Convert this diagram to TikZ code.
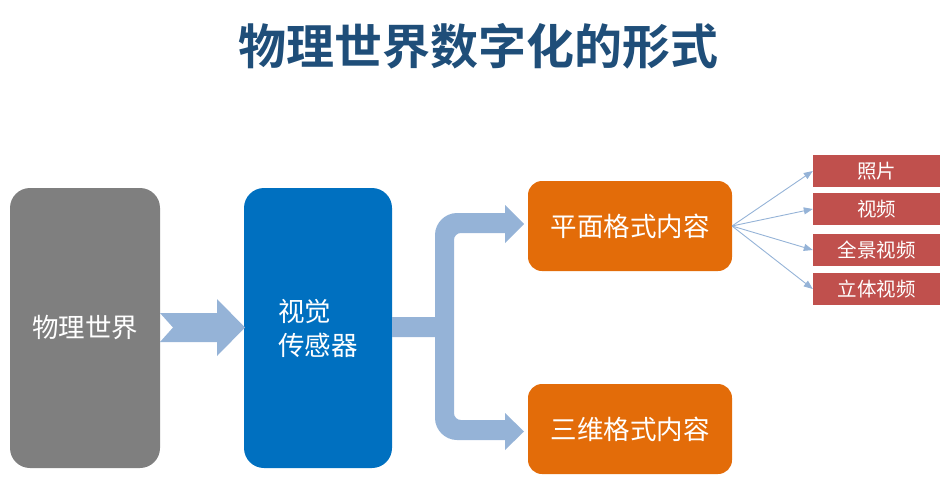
\documentclass[tikz,border=0pt]{standalone}
\usepackage{fontspec}
\setmainfont{Noto Sans CJK SC}
\newfontfamily\cjkbold{Noto Sans CJK SC Bold}
\usetikzlibrary{arrows.meta}
\definecolor{titleblue}{RGB}{31,78,121}
\definecolor{boxgray}{RGB}{127,127,127}
\definecolor{boxblue}{RGB}{0,112,192}
\definecolor{arrowblue}{RGB}{149,179,215}
\definecolor{boxorange}{RGB}{227,108,9}
\definecolor{boxred}{RGB}{192,80,77}
\tikzset{
  bigbox/.style={rounded corners=20pt, text=white, inner sep=0pt,
    font=\fontsize{26.5}{34}\selectfont},
  midbox/.style={fill=boxorange, rounded corners=14pt, text=white, inner sep=0pt,
    minimum width=204pt, minimum height=90pt, font=\fontsize{26.5}{30}\selectfont},
  tagbox/.style={fill=boxred, text=white, inner sep=0pt,
    minimum width=127pt, minimum height=32pt, font=\fontsize{19.5}{22}\selectfont},
  blockarrow/.style={fill=arrowblue, draw=none},
  thinarrow/.style={draw=arrowblue, line width=0.9pt, -{Triangle[length=9pt,width=7pt]}}
}
\begin{document}
\begin{tikzpicture}[x=1pt,y=-1pt]
\useasboundingbox (0,0) rectangle (952,496);
\node[font=\cjkbold\fontsize{48}{52}\selectfont, text=titleblue] (title) at (478,46) {物理世界数字化的形式};

\node[bigbox, fill=boxgray, minimum width=150pt, minimum height=280pt] (world) at (85,328) {物理世界};
\node[bigbox, fill=boxblue, minimum width=148pt, minimum height=280pt, align=left] (sensor) at (318,328) {视觉\\传感器};

\node[midbox] (flat) at (630,226) {平面格式内容};
\node[midbox] (threed) at (630,429) {三维格式内容};

\node[tagbox] (photo) at (876.5,171) {照片};
\node[tagbox] (video) at (876.5,209) {视频};
\node[tagbox] (pano) at (876.5,250) {全景视频};
\node[tagbox] (stereo) at (876.5,289) {立体视频};

% block arrow world -> sensor
\fill[blockarrow] (160,313) -- (217,313) -- (217,299) -- (245,327.5) -- (217,356) -- (217,342) -- (160,342) -- (173,327.5) -- cycle;

% fork arrow sensor -> flat / threed
\fill[blockarrow] (392,317) -- (435,317) -- (435,235)
  .. controls (435,223) and (445,213) .. (457,213) -- (505,213) -- (505,205) -- (524,224) -- (505,243) -- (505,233)
  -- (461,233) .. controls (457,233) and (454,236) .. (454,240) -- (454,413)
  .. controls (454,417) and (457,420) .. (461,420) -- (505,420) -- (505,413) -- (524,431.5) -- (505,450) -- (505,440)
  -- (457,440) .. controls (445,440) and (435,430) .. (435,418) -- (435,337) -- (392,337) -- cycle;

% thin arrows
\coordinate (src) at (732,226);
\foreach \t in {photo,video,pano,stereo}{
  \draw[thinarrow] (src) -- (\t.west);
}
\end{tikzpicture}
\end{document}
